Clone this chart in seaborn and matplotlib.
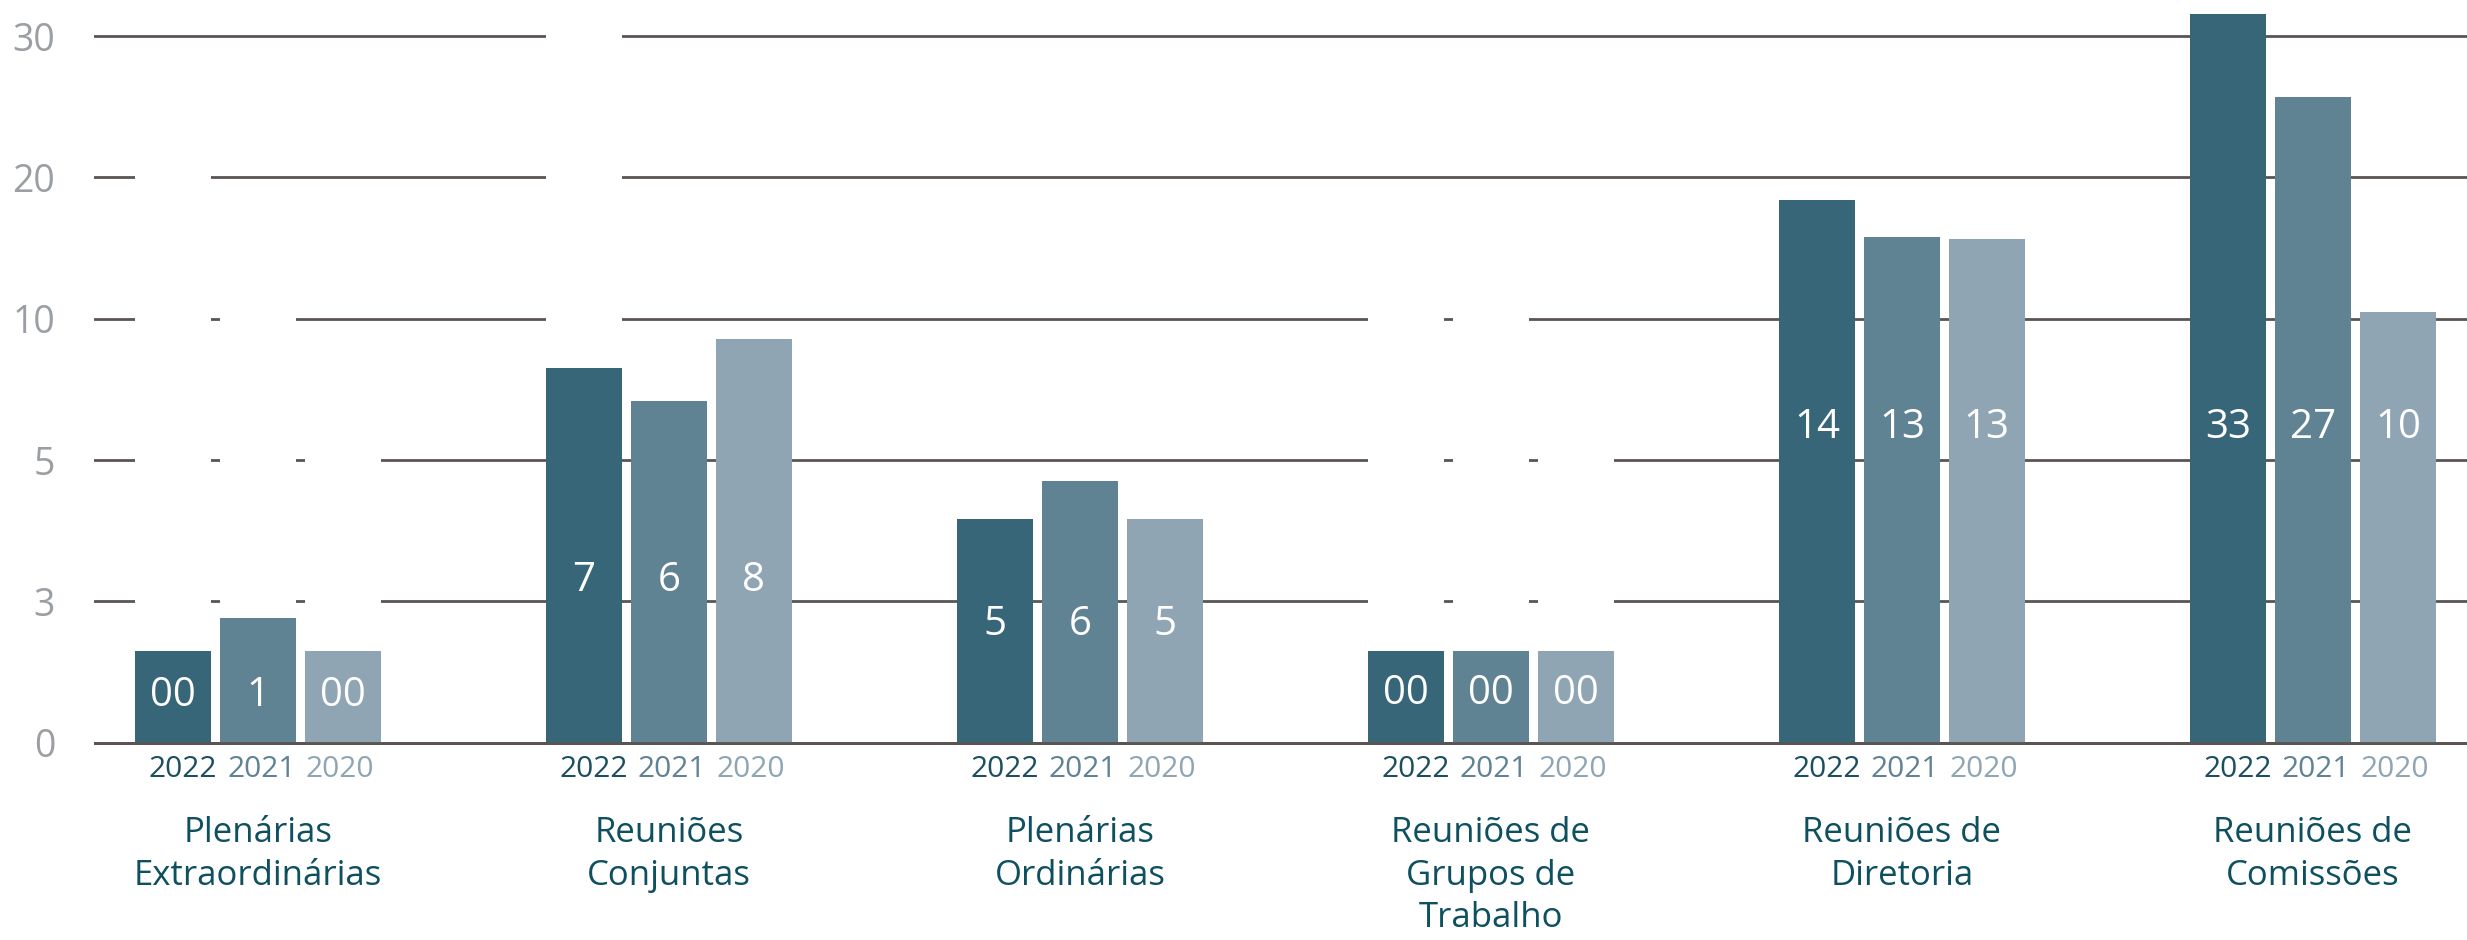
import numpy as np
import pandas as pd
import seaborn as sns
import matplotlib
matplotlib.use("Agg")
import matplotlib.pyplot as plt

categorias = ["Plenárias\nExtraordinárias", "Reuniões\nConjuntas", "Plenárias\nOrdinárias",
              "Reuniões de\nGrupos de\nTrabalho", "Reuniões de\nDiretoria", "Reuniões de\nComissões"]
anos = ["2022", "2021", "2020"]

# altura das barras como desenhadas (lidas contra o eixo 0-3-5-10-20-30)
barra_2022 = [1.95, 8.24, 4.16, 1.94, 18.37, 31.6]
barra_2021 = [2.64, 7.10, 4.70, 1.94, 15.8, 25.7]
barra_2020 = [1.95, 9.30, 4.16, 1.94, 15.67, 10.45]

# rótulos impressos nas barras
rotulo_2022 = ["00", "7", "5", "00", "14", "33"]
rotulo_2021 = ["1", "6", "6", "00", "13", "27"]
rotulo_2020 = ["00", "8", "5", "00", "13", "10"]
rotulo_y = [1.0, 3.29, 2.5, 1.04, 6.14, 6.14]

# blocos brancos que cortam as linhas de grade
mascara_2022 = [25, 40, 0, 15, 0, 0]
mascara_2021 = [15, 0, 0, 15, 0, 0]
mascara_2020 = [7.5, 0, 0, 7.5, 0, 0]

y_ticks = [0, 3, 5, 10, 20, 30]

cores = ["#386679", "#608394", "#8fa5b4"]
cores_ano = ["#1b4f60", "#5f8294", "#8fa5b4"]
cor_cat = "#0e5060"
cor_grade = "#5a5552"

# escala do eixo y: marcas igualmente espaçadas
y_pos = [-3, 0, 3, 5, 10, 20, 30, 40]
y_idx = [-1, 0, 1, 2, 3, 4, 5, 6]


def fwd(v):
    return np.interp(v, y_pos, y_idx)


def inv(i):
    return np.interp(i, y_idx, y_pos)


frames = []
for ano, b, m in zip(anos, [barra_2022, barra_2021, barra_2020],
                     [mascara_2022, mascara_2021, mascara_2020]):
    frames.append(pd.DataFrame({"categoria": categorias, "ano": ano, "valor": b, "mascara": m}))
df = pd.concat(frames, ignore_index=True)
rotulos = [rotulo_2022, rotulo_2021, rotulo_2020]

sns.set_style("white")
plt.rcParams['font.family'] = ['Open Sans', 'DejaVu Sans']

fig = plt.figure(figsize=(24.67, 9.4), dpi=100)
ax = fig.add_axes([0.0381, 0.195, 0.9619, 0.805])
ax.set_yscale('function', functions=(fwd, inv))

sns.barplot(data=df, x="categoria", y="mascara", hue="ano", hue_order=anos,
            palette=["white"] * 3, width=0.62, gap=0.11, saturation=1,
            errorbar=None, legend=False, linewidth=0, zorder=0.8, ax=ax)
sns.barplot(data=df, x="categoria", y="valor", hue="ano", hue_order=anos,
            palette=cores, width=0.62, gap=0.11, saturation=1,
            errorbar=None, legend=False, linewidth=0, zorder=1, ax=ax)

ax.set_xlim(-0.399, 5.375)
ax.set_ylim(inv(-0.1), inv(5.256))
ax.set_yticks(y_ticks)
ax.set_yticklabels([str(t) for t in y_ticks])
ax.set_axisbelow(True)
ax.grid(axis='y', color=cor_grade, linewidth=2)
ax.grid(axis='x', visible=False)
ax.axhline(0, color=cor_grade, linewidth=2, zorder=3)
ax.tick_params(axis='y', length=0, pad=28, labelsize=27, labelcolor="#9b9fa4")
ax.tick_params(axis='x', length=0, labelbottom=False)
ax.set_xlabel("")
ax.set_ylabel("")
for s in ax.spines.values():
    s.set_visible(False)

trans = ax.get_xaxis_transform()
for ci, cont in enumerate(ax.containers[3:]):
    for j, bar in enumerate(cont):
        x = bar.get_x() + bar.get_width() / 2
        ax.text(x, rotulo_y[j], rotulos[ci][j], ha='center', va='center',
                color='white', fontsize=29, zorder=5)
        # anos escritos juntos, centrados no grupo
        ax.text(j + 0.008 + (ci - 1) * 0.192, -0.0164, anos[ci], transform=trans,
                ha='center', va='center', color=cores_ano[ci], fontsize=21.5)

for j, cat in enumerate(categorias):
    ax.text(j, -0.079, cat, transform=trans, ha='center', va='top',
            color=cor_cat, fontsize=25, linespacing=1.32)

fig.savefig("out.png", dpi=100)
